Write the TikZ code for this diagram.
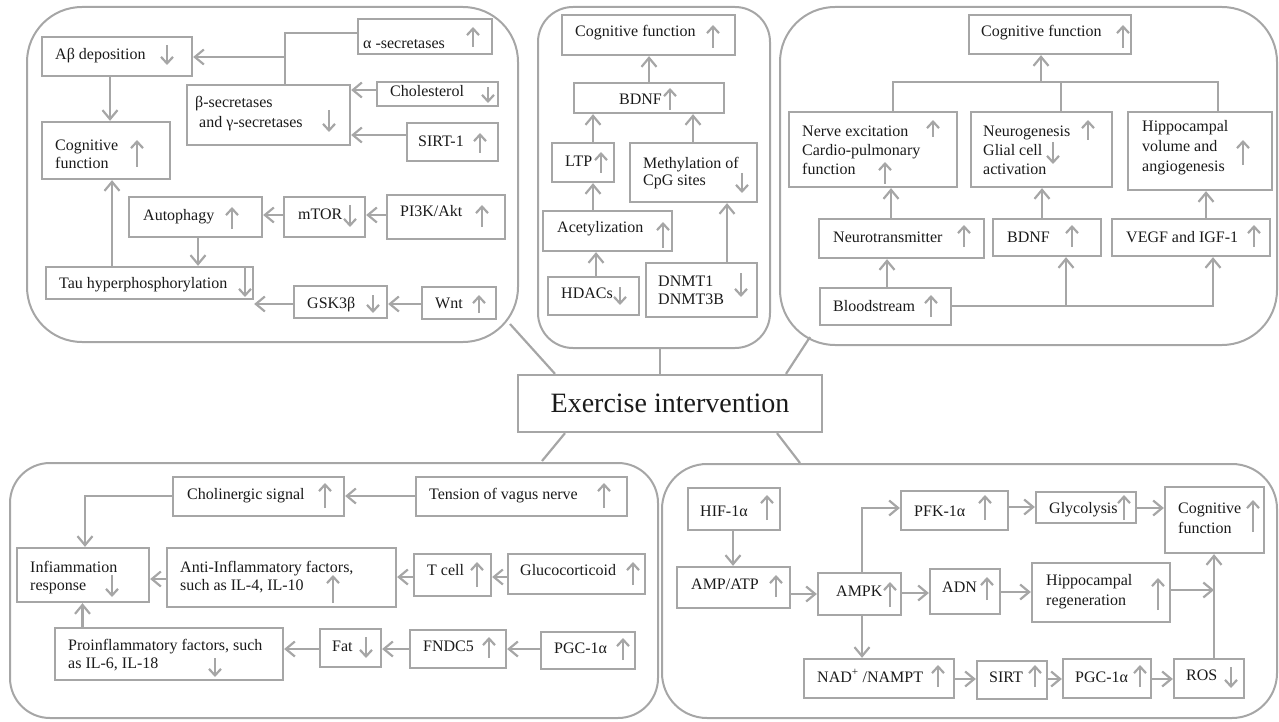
\documentclass[tikz,border=0pt]{standalone}
\usepackage{fontspec}
\setmainfont{Liberation Serif}
\usetikzlibrary{arrows.meta,fit}
\definecolor{lg}{HTML}{A6A6A6}
\definecolor{tc}{HTML}{1A1A1A}
\tikzset{
  box/.style={draw=lg, line width=2.3pt, inner sep=0pt},
  panel/.style={draw=lg, line width=2pt, inner sep=0pt, rounded corners=#1},
  txt/.style={font=\fontsize{16}{18}\selectfont, anchor=base west, inner sep=0pt, text=tc},
  lines/.style={font=\fontsize{16}{#1}\selectfont, align=left, anchor=north west, inner sep=0pt, text=tc, yshift=-1.5pt},
  ln/.style={draw=lg, line width=2.2pt},
  arr/.style={draw=lg, line width=2.2pt, -{Straight Barb[length=9pt,width=15pt]}},
  ind/.style={draw=lg, line width=2.2pt, -{Straight Barb[length=6.5pt,width=12pt]}}
}
\newcommand\bx[5]{\node[box, fit={(#2,#3) (#4,#5)}] (#1) {};}
\newcommand\tx[4]{\node[txt] (#1) at (#2,#3) {#4};}
\newcommand\upa[3]{\draw[ind] (#1,#3) -- (#1,#2);}
\newcommand\dna[3]{\draw[ind] (#1,#2) -- (#1,#3);}
\begin{document}
\begin{tikzpicture}[x=1pt,y=-1pt]
\useasboundingbox (0,0) rectangle (1279,722);
% panels
\node[panel=55pt, fit={(27,7) (518,342)}] (P1) {};
\node[panel=35pt, fit={(538,7) (770,348)}] (P2) {};
\node[panel=55pt, fit={(780,7) (1277,345)}] (P3) {};
\node[panel=40pt, fit={(10,463) (658,718)}] (P4) {};
\node[panel=45pt, fit={(662,464) (1277,718)}] (P5) {};
% centre
\node[box, minimum width=304pt, minimum height=57pt, font=\fontsize{28}{30}\selectfont, text=tc] (ex) at (670,403.5) {Exercise intervention};
\coordinate (c1) at (510,324);
\coordinate (c3) at (810,337);
\coordinate (c4) at (542,461);
\coordinate (c5) at (800,463);
\draw[ln] (ex.north -| 555,0) -- (c1);
\draw[ln] (ex.north -| 660,0) -- (P2.south -| 660,0);
\draw[ln] (ex.north -| 786,0) -- (c3);
\draw[ln] (ex.south -| 565,0) -- (c4);
\draw[ln] (ex.south -| 777,0) -- (c5);

% ---------- panel 1 ----------
\bx{abeta}{42}{37}{192}{76}
\bx{alpha}{358}{19}{492}{54}
\bx{chol}{377}{82}{498}{106}
\bx{beta}{187}{85}{350}{145}
\bx{sirtA}{407}{123}{498}{161}
\bx{cogA}{42}{122}{170}{179}
\bx{auto}{129}{197}{262}{237}
\bx{mtor}{284}{197}{365}{237}
\bx{pik}{387}{195}{505}{239}
\bx{tau}{46}{267}{253}{299}
\bx{gsk}{294}{286}{387}{318}
\bx{wnt}{422}{287}{496}{319}
\tx{abeta-t}{55}{60}{Aβ deposition}
\tx{alpha-t}{363}{49}{α -secretases}
\tx{chol-t}{390}{97}{Cholesterol}
\node[lines=20pt] (beta-t) at (195,95) {β-secretases\\\hspace*{4pt}and γ-secretases};
\tx{sirtA-t}{418}{147}{SIRT-1}
\node[lines=18pt] (cogA-t) at (55,138) {Cognitive\\function};
\tx{auto-t}{143}{220}{Autophagy}
\tx{mtor-t}{298}{219}{mTOR}
\tx{pik-t}{400}{217}{PI3K/Akt}
\tx{tau-t}{59}{288}{Tau hyperphosphorylation}
\tx{gsk-t}{307}{308}{GSK3β}
\tx{wnt-t}{435}{308}{Wnt}
\dna{167}{45}{65}
\upa{473}{27}{47}
\dna{488}{87}{103}
\dna{329}{110}{132}
\upa{480}{133}{153}
\upa{137}{140}{167}
\upa{232}{207}{229}
\dna{350}{205}{227}
\upa{482}{205}{227}
\dna{245}{268}{297}
\dna{373}{295}{313}
\upa{479}{295}{313}
\coordinate (jA) at (285,57);
\draw[ln] (alpha.west |- 0,33) -| (beta.north -| 285,0);
\draw[arr] (jA) -- (abeta.east |- jA);
\draw[arr] (chol.west |- 0,90) -- (beta.east |- 0,90);
\draw[arr] (sirtA.west |- 0,135) -- (beta.east |- 0,135);
\draw[arr] (abeta.south -| 110,0) -- (cogA.north -| 110,0);
\draw[arr] (tau.north -| 112,0) -- (cogA.south -| 112,0);
\draw[arr] (pik.west |- 0,215) -- (mtor.east |- 0,215);
\draw[arr] (mtor.west |- 0,215) -- (auto.east |- 0,215);
\draw[arr] (auto.south -| 198,0) -- (tau.north -| 198,0);
\draw[arr] (wnt.west |- 0,304) -- (gsk.east |- 0,304);
\draw[arr] (gsk.west |- 0,304) -- (tau.east |- 0,304);

% ---------- panel 2 ----------
\bx{cogB}{562}{15}{735}{55}
\bx{bdnfB}{574}{83}{724}{113}
\bx{ltp}{552}{143}{614}{182}
\bx{meth}{630}{143}{757}{202}
\bx{acet}{543}{211}{672}{251}
\bx{hdac}{548}{277}{639}{315}
\bx{dnmt}{646}{263}{757}{317}
\tx{cogB-t}{575}{37}{Cognitive function}
\tx{bdnfB-t}{619}{105}{BDNF}
\tx{ltp-t}{565}{167}{LTP}
\node[lines=17pt] (meth-t) at (643,156) {Methylation of\\CpG sites};
\tx{acet-t}{557}{233}{Acetylization}
\tx{hdac-t}{561}{298}{HDACs}
\node[lines=18pt] (dnmt-t) at (658,274) {DNMT1\\DNMT3B};
\upa{713}{25}{48}
\upa{670}{88}{110}
\upa{601}{152}{173}
\dna{742}{173}{193}
\upa{663}{222}{248}
\dna{620}{287}{305}
\dna{741}{273}{297}
\draw[arr] (bdnfB.north -| 649,0) -- (cogB.south -| 649,0);
\draw[arr] (ltp.north -| 593,0) -- (bdnfB.south -| 593,0);
\draw[arr] (meth.north -| 693,0) -- (bdnfB.south -| 693,0);
\draw[arr] (acet.north -| 593,0) -- (ltp.south -| 593,0);
\draw[arr] (hdac.north -| 596,0) -- (acet.south -| 596,0);
\draw[arr] (dnmt.north -| 727,0) -- (meth.south -| 727,0);

% ---------- panel 3 ----------
\bx{cogC}{969}{15}{1131}{54}
\bx{nerve}{789}{112}{957}{187}
\bx{neuro}{971}{112}{1112}{187}
\bx{hippo}{1128}{112}{1272}{190}
\bx{nt}{819}{219}{984}{258}
\bx{bdnfC}{993}{219}{1101}{256}
\bx{vegf}{1112}{219}{1270}{256}
\bx{blood}{820}{288}{951}{325}
\tx{cogC-t}{981}{37}{Cognitive function}
\node[lines=19pt] (nerve-t) at (802,124) {Nerve excitation\\Cardio-pulmonary\\function};
\node[lines=19pt] (neuro-t) at (983,124) {Neurogenesis\\Glial cell\\activation};
\node[lines=20pt] (hippo-t) at (1142,119) {Hippocampal\\volume and\\angiogenesis};
\tx{nt-t}{833}{242}{Neurotransmitter}
\tx{bdnfC-t}{1007}{242}{BDNF}
\tx{vegf-t}{1126}{242}{VEGF and IGF-1}
\tx{blood-t}{833}{311}{Bloodstream}
\upa{1123}{25}{48}
\upa{933}{120}{137}
\upa{885}{162}{184}
\upa{1088}{120}{140}
\dna{1053}{142}{164}
\upa{1243}{140}{165}
\upa{964}{225}{247}
\upa{1072}{225}{247}
\upa{1254}{225}{247}
\upa{931}{295}{317}
\coordinate (brC) at (1041,82);
\draw[arr] (brC) -- (cogC.south -| brC);
\draw[ln] (nerve.north -| 893,0) |- (1218,82) -- (hippo.north -| 1218,0);
\draw[ln] (neuro.north -| 1061,0) -- (1061,82);
\draw[arr] (nt.north -| 891,0) -- (nerve.south -| 891,0);
\draw[arr] (bdnfC.north -| 1042,0) -- (neuro.south -| 1042,0);
\draw[arr] (vegf.north -| 1206,0) -- (hippo.south -| 1206,0);
\draw[arr] (blood.north -| 887,0) -- (nt.south -| 887,0);
\draw[arr] (blood.east |- 0,306) -| (vegf.south -| 1213,0);
\draw[arr] (1066,306) -- (bdnfC.south -| 1066,0);

% ---------- panel 4 ----------
\bx{cholin}{173}{477}{344}{516}
\bx{tension}{416}{477}{627}{516}
\bx{infl}{17}{548}{149}{602}
\bx{anti}{167}{548}{396}{607}
\bx{tcell}{414}{554}{491}{596}
\bx{gluco}{508}{554}{645}{594}
\bx{pro}{55}{628}{283}{680}
\bx{fat}{320}{629}{381}{667}
\bx{fndc}{410}{630}{506}{668}
\bx{pgcD}{541}{632}{635}{669}
\tx{cholin-t}{187}{499}{Cholinergic signal}
\tx{tension-t}{429}{499}{Tension of vagus nerve}
\node[lines=18pt] (infl-t) at (30,560) {Infiammation\\response};
\node[lines=18pt] (anti-t) at (180,560) {Anti-Inflammatory factors,\\such as IL-4, IL-10};
\tx{tcell-t}{427}{575}{T cell}
\tx{gluco-t}{520}{575}{Glucocorticoid}
\node[lines=18pt] (pro-t) at (68,638) {Proinflammatory factors, such\\as IL-6, IL-18};
\tx{fat-t}{332}{651}{Fat}
\tx{fndc-t}{423}{651}{FNDC5}
\tx{pgcD-t}{554}{653}{PGC-1α}
\upa{325}{483}{508}
\upa{604}{483}{508}
\dna{112}{575}{597}
\upa{333}{575}{603}
\upa{477}{562}{587}
\upa{633}{562}{585}
\dna{215}{658}{677}
\dna{366}{637}{658}
\upa{489}{637}{658}
\upa{623}{638}{660}
\draw[arr] (tension.west |- 0,496) -- (cholin.east |- 0,496);
\draw[arr] (cholin.west |- 0,496) -| (infl.north -| 85,0);
\draw[arr] (anti.west |- 0,579) -- (infl.east |- 0,579);
\draw[arr] (tcell.west |- 0,577) -- (anti.east |- 0,577);
\draw[arr] (gluco.west |- 0,577) -- (tcell.east |- 0,577);
\draw[arr] (pro.north -| 82.5,0) -- (infl.south -| 82.5,0);
\draw[arr] (fat.west |- 0,649) -- (pro.east |- 0,649);
\draw[arr] (fndc.west |- 0,649) -- (fat.east |- 0,649);
\draw[arr] (pgcD.west |- 0,649) -- (fndc.east |- 0,649);

% ---------- panel 5 ----------
\bx{hif}{688}{488}{780}{530}
\bx{amp}{677}{567}{790}{608}
\bx{ampk}{818}{573}{901}{615}
\bx{pfk}{901}{491}{1008}{530}
\bx{glyco}{1036}{492}{1136}{523}
\bx{cogE}{1165}{487}{1264}{553}
\bx{adn}{930}{569}{1000}{614}
\bx{hipreg}{1032}{563}{1170}{622}
\bx{nad}{804}{659}{954}{698}
\bx{sirtE}{977}{661}{1047}{699}
\bx{pgcE}{1063}{659}{1151}{698}
\bx{ros}{1174}{659}{1244}{698}
\tx{hif-t}{700}{516}{HIF-1α}
\tx{amp-t}{691}{589}{AMP/ATP}
\tx{ampk-t}{836}{596}{AMPK}
\tx{pfk-t}{914}{516}{PFK-1α}
\tx{glyco-t}{1049}{513}{Glycolysis}
\node[lines=20pt] (cogE-t) at (1178,501) {Cognitive\\function};
\tx{adn-t}{942}{592}{ADN}
\node[lines=20pt] (hipreg-t) at (1046,573) {Hippocampal\\regeneration};
\tx{nad-t}{817}{682}{NAD\textsuperscript{+} /NAMPT}
\tx{sirtE-t}{989}{682}{SIRT}
\tx{pgcE-t}{1075}{682}{PGC-1α}
\tx{ros-t}{1186}{680}{ROS}
\upa{767}{495}{520}
\upa{776}{575}{597}
\upa{890}{582}{607}
\upa{985}{495}{520}
\upa{1124}{495}{520}
\upa{1253}{500}{532}
\upa{987}{577}{600}
\upa{1158}{578}{610}
\upa{938}{665}{687}
\upa{1035}{665}{687}
\upa{1140}{665}{687}
\dna{1231}{667}{688}
\coordinate (jE) at (1214,590);
\draw[arr] (hif.south -| 733,0) -- (amp.north -| 733,0);
\draw[arr] (amp.east |- 0,594) -- (ampk.west |- 0,594);
\draw[arr] (ampk.north -| 862,0) |- (pfk.west |- 0,508);
\draw[arr] (pfk.east |- 0,507) -- (glyco.west |- 0,507);
\draw[arr] (glyco.east |- 0,508) -- (cogE.west |- 0,508);
\draw[arr] (ampk.east |- 0,593) -- (adn.west |- 0,593);
\draw[arr] (adn.east |- 0,592) -- (hipreg.west |- 0,592);
\draw[arr] (hipreg.east |- jE) -- (jE);
\draw[arr] (ros.north -| jE) -- (cogE.south -| jE);
\draw[arr] (ampk.south -| 862,0) -- (nad.north -| 862,0);
\draw[arr] (nad.east |- 0,679) -- (sirtE.west |- 0,679);
\draw[arr] (sirtE.east |- 0,679) -- (pgcE.west |- 0,679);
\draw[arr] (pgcE.east |- 0,679) -- (ros.west |- 0,679);
\end{tikzpicture}
\end{document}
